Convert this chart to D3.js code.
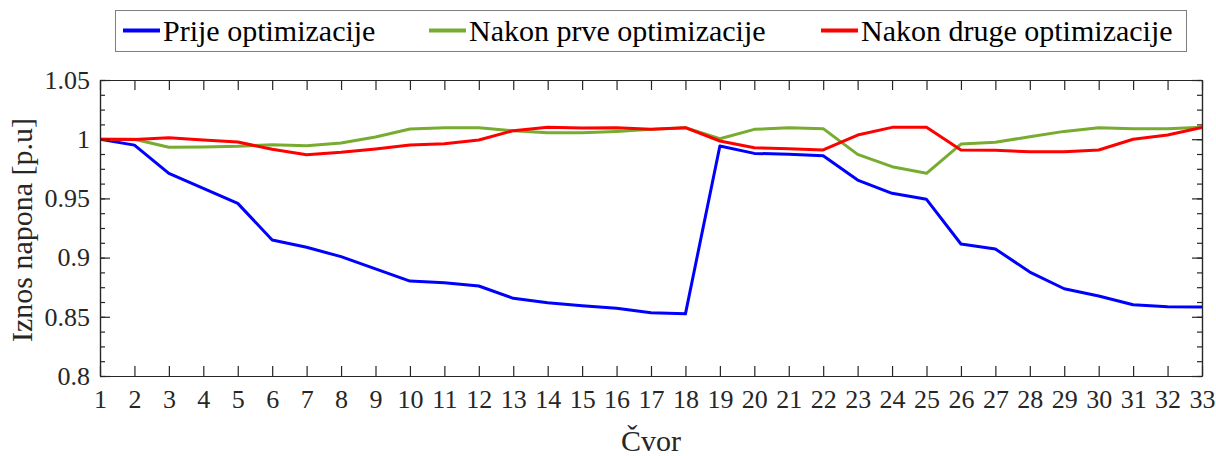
<!DOCTYPE html>
<html>
<head>
<meta charset="utf-8">
<script src="https://cdn.jsdelivr.net/npm/d3@7"></script>
<style>
  html, body { margin: 0; padding: 0; background: #fff; }
  svg { display: block; }
  svg text { font-family: "Liberation Serif", "Times New Roman", "DejaVu Serif", serif; }
</style>
</head>
<body>
<svg id="chart" width="1216" height="456"></svg>
<script>
// Node numbers of the distribution feeder
const nodes = d3.range(1, 34);

// Voltage magnitude [p.u] per node
const prije = [1.0, 0.995, 0.9712, 0.9585, 0.9458, 0.9149, 0.9087, 0.9008, 0.8905, 0.8802,
  0.8788, 0.876, 0.8656, 0.8619, 0.8594, 0.8572, 0.8535, 0.8525, 0.9943, 0.988,
  0.9872, 0.986, 0.9655, 0.9543, 0.9492, 0.9115, 0.9073, 0.8878, 0.8737, 0.8676,
  0.8602, 0.8585, 0.8583];
const prva = [1.0, 1.0, 0.9932, 0.9934, 0.994, 0.9954, 0.9945, 0.9968, 1.0018, 1.0086,
  1.0097, 1.0097, 1.0072, 1.0055, 1.0055, 1.0066, 1.0083, 1.0097, 1.0004, 1.0083,
  1.0097, 1.0089, 0.9872, 0.9768, 0.9712, 0.9959, 0.9974, 1.0021, 1.0066, 1.0097,
  1.0089, 1.0089, 1.01];
const druga = [1.0, 0.9997, 1.0013, 0.9993, 0.9976, 0.9915, 0.9869, 0.9889, 0.9917, 0.9951,
  0.9962, 0.9993, 1.0072, 1.01, 1.0094, 1.0097, 1.0083, 1.0097, 0.9985, 0.9928,
  0.992, 0.9909, 1.0035, 1.01, 1.01, 0.9909, 0.9906, 0.9894, 0.9894, 0.9909,
  1.0, 1.0035, 1.01];

const yTickValues = [0.8, 0.85, 0.9, 0.95, 1.0, 1.05];
const yTickLabels = ["0.8", "0.85", "0.9", "0.95", "1", "1.05"];
const seriesNames = ["Prije optimizacije", "Nakon prve optimizacije", "Nakon druge optimizacije"];
const seriesColors = ["#0000ff", "#77ac30", "#ff0000"];
const seriesData = [prije, prva, druga];

const svg = d3.select("#chart");
const plotLeft = 100, plotRight = 1202, plotTop = 80, plotBottom = 376;
const axisColor = "#262626";
const serif = '"Liberation Serif", "Times New Roman", "DejaVu Serif", serif';

const x = d3.scaleLinear().domain([1, 33]).range([plotLeft, plotRight]);
const y = d3.scaleLinear().domain([0.8, 1.05]).range([plotBottom, plotTop]);

// Lines
const line = d3.line().x((d, i) => x(nodes[i])).y(d => y(d));
const plot = svg.append("g");
plot.append("clipPath").attr("id", "clip").append("rect")
  .attr("x", plotLeft).attr("y", plotTop - 2)
  .attr("width", plotRight - plotLeft).attr("height", plotBottom - plotTop + 4);
seriesData.forEach((s, k) => {
  plot.append("path").datum(s)
    .attr("clip-path", "url(#clip)")
    .attr("fill", "none")
    .attr("stroke", seriesColors[k])
    .attr("stroke-width", 3)
    .attr("stroke-linejoin", "round")
    .attr("d", line);
});

// Axes: ticks pointing inward on all four sides
function styleAxis(g) {
  g.attr("font-family", serif);
  g.selectAll(".domain").attr("stroke", axisColor).attr("stroke-width", 1.2);
  g.selectAll(".tick line").attr("stroke", axisColor).attr("stroke-width", 1.2);
  g.selectAll(".tick text").attr("fill", axisColor)
    .style("font-family", serif)
    .style("font-size", "26px");
}

const xBottom = svg.append("g").attr("transform", `translate(0,${plotBottom})`)
  .call(d3.axisBottom(x).tickValues(nodes).tickFormat(d3.format("d"))
    .tickSizeInner(-10).tickSizeOuter(0).tickPadding(14));
styleAxis(xBottom);
xBottom.selectAll(".tick text").attr("dy", "0.71em");

const xTop = svg.append("g").attr("transform", `translate(0,${plotTop})`)
  .call(d3.axisTop(x).tickValues(nodes).tickFormat("").tickSizeInner(-10).tickSizeOuter(0));
styleAxis(xTop);

const yMinor = d3.range(0, 21).map(i => 0.8 + i * 0.0125);
const yLeftMinor = svg.append("g").attr("transform", `translate(${plotLeft},0)`)
  .call(d3.axisLeft(y).tickValues(yMinor).tickFormat("").tickSizeInner(-5).tickSizeOuter(0));
styleAxis(yLeftMinor);
const yRightMinor = svg.append("g").attr("transform", `translate(${plotRight},0)`)
  .call(d3.axisRight(y).tickValues(yMinor).tickFormat("").tickSizeInner(-5).tickSizeOuter(0));
styleAxis(yRightMinor);

const yLeft = svg.append("g").attr("transform", `translate(${plotLeft},0)`)
  .call(d3.axisLeft(y).tickValues(yTickValues)
    .tickFormat((d, i) => yTickLabels[i]).tickSizeInner(-10).tickSizeOuter(0).tickPadding(10));
styleAxis(yLeft);
const yRight = svg.append("g").attr("transform", `translate(${plotRight},0)`)
  .call(d3.axisRight(y).tickValues(yTickValues).tickFormat("").tickSizeInner(-10).tickSizeOuter(0));
styleAxis(yRight);

// Axis titles
svg.append("text")
  .attr("x", (plotLeft + plotRight) / 2).attr("y", 451)
  .attr("text-anchor", "middle")
  .attr("fill", axisColor)
  .style("font-family", serif)
  .style("font-size", "30px")
  .text("Čvor");

svg.append("text")
  .attr("transform", `translate(32,230) rotate(-90)`)
  .attr("text-anchor", "middle")
  .attr("fill", axisColor)
  .style("font-family", serif)
  .style("font-size", "30px")
  .text("Iznos napona [p.u]");

// Legend
const legend = svg.append("g");
legend.append("rect")
  .attr("x", 115.5).attr("y", 10.5).attr("width", 1071).attr("height", 41)
  .attr("fill", "#fff").attr("stroke", "#7f7f7f").attr("stroke-width", 1);
const legendX = [123, 429, 821];
seriesNames.forEach((name, k) => {
  legend.append("line")
    .attr("x1", legendX[k]).attr("x2", legendX[k] + 37)
    .attr("y1", 30.5).attr("y2", 30.5)
    .attr("stroke", seriesColors[k]).attr("stroke-width", 4);
  legend.append("text")
    .attr("x", legendX[k] + 40).attr("y", 41)
    .attr("fill", "#000")
    .style("font-family", serif)
    .style("font-size", "30px")
    .text(name);
});
</script>
</body>
</html>
